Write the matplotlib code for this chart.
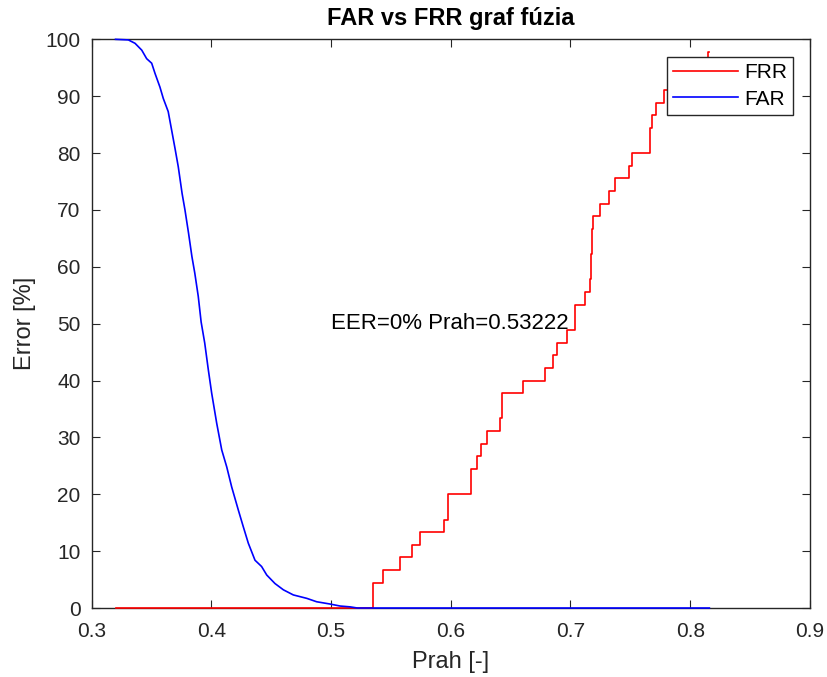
import matplotlib
matplotlib.use("Agg")
import matplotlib.pyplot as plt

plt.rcParams['font.family'] = ['Liberation Sans', 'DejaVu Sans']

# FRR - step curve (threshold where the step starts, level after the step)
frr_x = [0.32, 0.535, 0.543, 0.558, 0.568, 0.574, 0.594, 0.598, 0.6165, 0.622,
         0.625, 0.630, 0.641, 0.643, 0.660, 0.679, 0.685, 0.689, 0.697, 0.704,
         0.712, 0.716, 0.7168, 0.7173, 0.7178, 0.7183, 0.7188, 0.7245, 0.7325,
         0.7375, 0.749, 0.7514, 0.766, 0.768, 0.7715, 0.7785, 0.790, 0.800,
         0.8147, 0.816]
frr_y = [0.0, 4.44, 6.67, 8.89, 11.11, 13.33, 15.56, 20.0, 24.44, 26.67,
         28.89, 31.11, 33.33, 37.78, 40.0, 42.22, 44.44, 46.67, 48.89, 53.33,
         55.56, 57.78, 60.0, 62.22, 64.44, 66.67, 68.89, 71.11, 73.33,
         75.56, 77.78, 80.0, 84.44, 86.67, 88.89, 91.11, 93.33, 95.56,
         97.78, 97.78]

# FAR - smooth decreasing curve
far_x = [0.32, 0.3307, 0.3363, 0.3419, 0.346, 0.3502, 0.353, 0.3571, 0.3599,
         0.364, 0.3669, 0.3697, 0.3724, 0.3756, 0.378, 0.381, 0.3838, 0.3862,
         0.3891, 0.3915, 0.3945, 0.3975, 0.4003, 0.4045, 0.4087, 0.4129, 0.417,
         0.4226, 0.4267, 0.4309, 0.4365, 0.442, 0.4463, 0.4532, 0.4602, 0.4685,
         0.4797, 0.488, 0.4992, 0.5075, 0.516, 0.522, 0.816]
far_y = [100.0, 99.9, 99.3, 98.1, 96.6, 95.8, 94.0, 91.6, 89.6,
         87.3, 84.0, 80.8, 77.6, 72.9, 70.0, 65.9, 61.8, 58.9,
         54.8, 50.3, 46.6, 41.9, 37.8, 32.5, 27.8, 24.8, 21.3,
         17.2, 14.3, 11.4, 8.4, 7.3, 5.8, 4.3, 3.2, 2.3,
         1.7, 1.1, 0.7, 0.35, 0.2, 0.0, 0.0]

eer_text = 'EER=0% Prah=0.53222'

fig = plt.figure(figsize=(8.28, 6.77), dpi=100)
ax = fig.add_axes([0.1106, 0.1019, 0.8676, 0.840])

ax.step(frr_x, frr_y, where='post', color=(1, 0, 0), lw=1.2, label='FRR',
        clip_on=False, zorder=3)
ax.plot(far_x, far_y, color=(0, 0, 1), lw=1.2, label='FAR',
        clip_on=False, zorder=3)

ax.text(0.5, 50, eer_text, ha='left', va='center', fontsize=16, color='black')

ax.set_xlim(0.3, 0.9)
ax.set_ylim(0, 100)
ax.set_xticks([0.3, 0.4, 0.5, 0.6, 0.7, 0.8, 0.9])
ax.set_yticks(range(0, 101, 10))

dark = (0.15, 0.15, 0.15)
for s in ax.spines.values():
    s.set_color(dark)
    s.set_linewidth(1.0)
ax.tick_params(direction='in', top=True, right=True, length=6, width=0.8,
               colors=dark, labelsize=15, labelcolor=dark)
ax.tick_params(axis='x', pad=10)
ax.tick_params(axis='y', pad=8)

ax.set_title('FAR vs FRR graf fúzia', fontsize=17, fontweight='bold', color='black', pad=10)
ax.set_xlabel('Prah [-]', fontsize=17, color=dark, labelpad=7)
ax.set_ylabel('Error [%]', fontsize=17, color=dark, labelpad=7)

leg = ax.legend(loc='upper right', bbox_to_anchor=(0.977, 0.969), borderaxespad=0,
                fontsize=15, handlelength=3.1, handletextpad=0.3, labelspacing=0.35,
                borderpad=0.3, fancybox=False, framealpha=1)
leg.get_frame().set_edgecolor(dark)
leg.get_frame().set_linewidth(1.0)
leg.set_zorder(5)

fig.savefig('out.png', dpi=100, facecolor='white')
